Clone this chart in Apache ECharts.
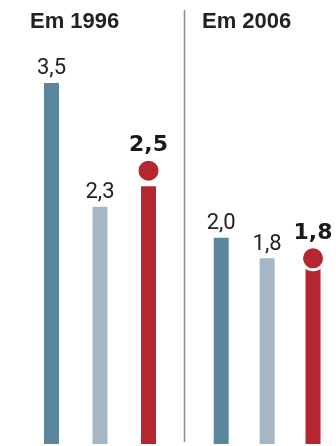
<!DOCTYPE html>
<html><head><meta charset="utf-8">
<script src="https://cdn.jsdelivr.net/npm/echarts@6/dist/echarts.min.js"></script>
<style>html,body{margin:0;padding:0;background:#fff}#c{width:336px;height:446px}</style>
</head><body><div id="c"></div>
<script>
const groups = ['Em 1996', 'Em 2006'];
const slots = ['a', 'b', 'c'];
const darkValues = [3.5, 2.0];
const lightValues = [2.3, 1.8];
const redValues = [2.5, 1.8];
const dotValues = [2.65, 1.8];

const colors = ['#5b879d', '#a5b7c5', '#b5262f'];
const fmt = v => v.toFixed(1).replace('.', ',');
const chart = echarts.init(document.getElementById('c'), null, {renderer: 'canvas'});

const grids = [
  {left: 27.25, width: 145.5, top: 31.4, height: 412.6},
  {left: 198.25, width: 145.5, top: 31.4, height: 412.6}
];
const xAxes = [], yAxes = [], series = [];
groups.forEach((g, i) => {
  xAxes.push({type: 'category', gridIndex: i, data: slots, show: false});
  yAxes.push({type: 'value', gridIndex: i, min: 0, max: 4, show: false});
  const vals = [darkValues[i], lightValues[i], redValues[i]];
  series.push({
    type: 'bar', xAxisIndex: i, yAxisIndex: i, barWidth: 15, z: 2,
    data: vals.map((v, k) => ({
      value: v,
      itemStyle: {color: colors[k]},
      label: {show: k < 2}
    })),
    label: {
      position: 'top', distance: 3,
      fontFamily: 'Roboto', fontWeight: 'normal', fontSize: 22, lineHeight: 22, color: '#222',
      formatter: p => fmt(p.value)
    }
  });
  series.push({
    type: 'scatter', xAxisIndex: i, yAxisIndex: i, z: 5,
    symbolSize: 23,
    itemStyle: {color: colors[2], borderColor: '#fff', borderWidth: 3, opacity: 1},
    data: [{value: [2, dotValues[i]]}],
    label: {
      show: true, position: 'top', distance: 1,
      fontFamily: 'DejaVu Sans', fontWeight: 'bold', fontSize: 22, lineHeight: 22, color: '#1a1a1a',
      formatter: () => fmt(redValues[i])
    }
  });
});

chart.setOption({
  animation: false,
  grid: grids, xAxis: xAxes, yAxis: yAxes, series: series,
  graphic: [
    {type: 'line', shape: {x1: 184.5, y1: 10, x2: 184.5, y2: 442}, style: {stroke: '#8a8a8a', lineWidth: 1.5}},
    {type: 'text', x: 30, y: 22, style: {text: groups[0], fontFamily: 'Liberation Sans', fontWeight: 'bold', fontSize: 22, fill: '#222', textVerticalAlign: 'middle'}},
    {type: 'text', x: 202, y: 22, style: {text: groups[1], fontFamily: 'Liberation Sans', fontWeight: 'bold', fontSize: 22, fill: '#222', textVerticalAlign: 'middle'}}
  ]
});
</script></body></html>
